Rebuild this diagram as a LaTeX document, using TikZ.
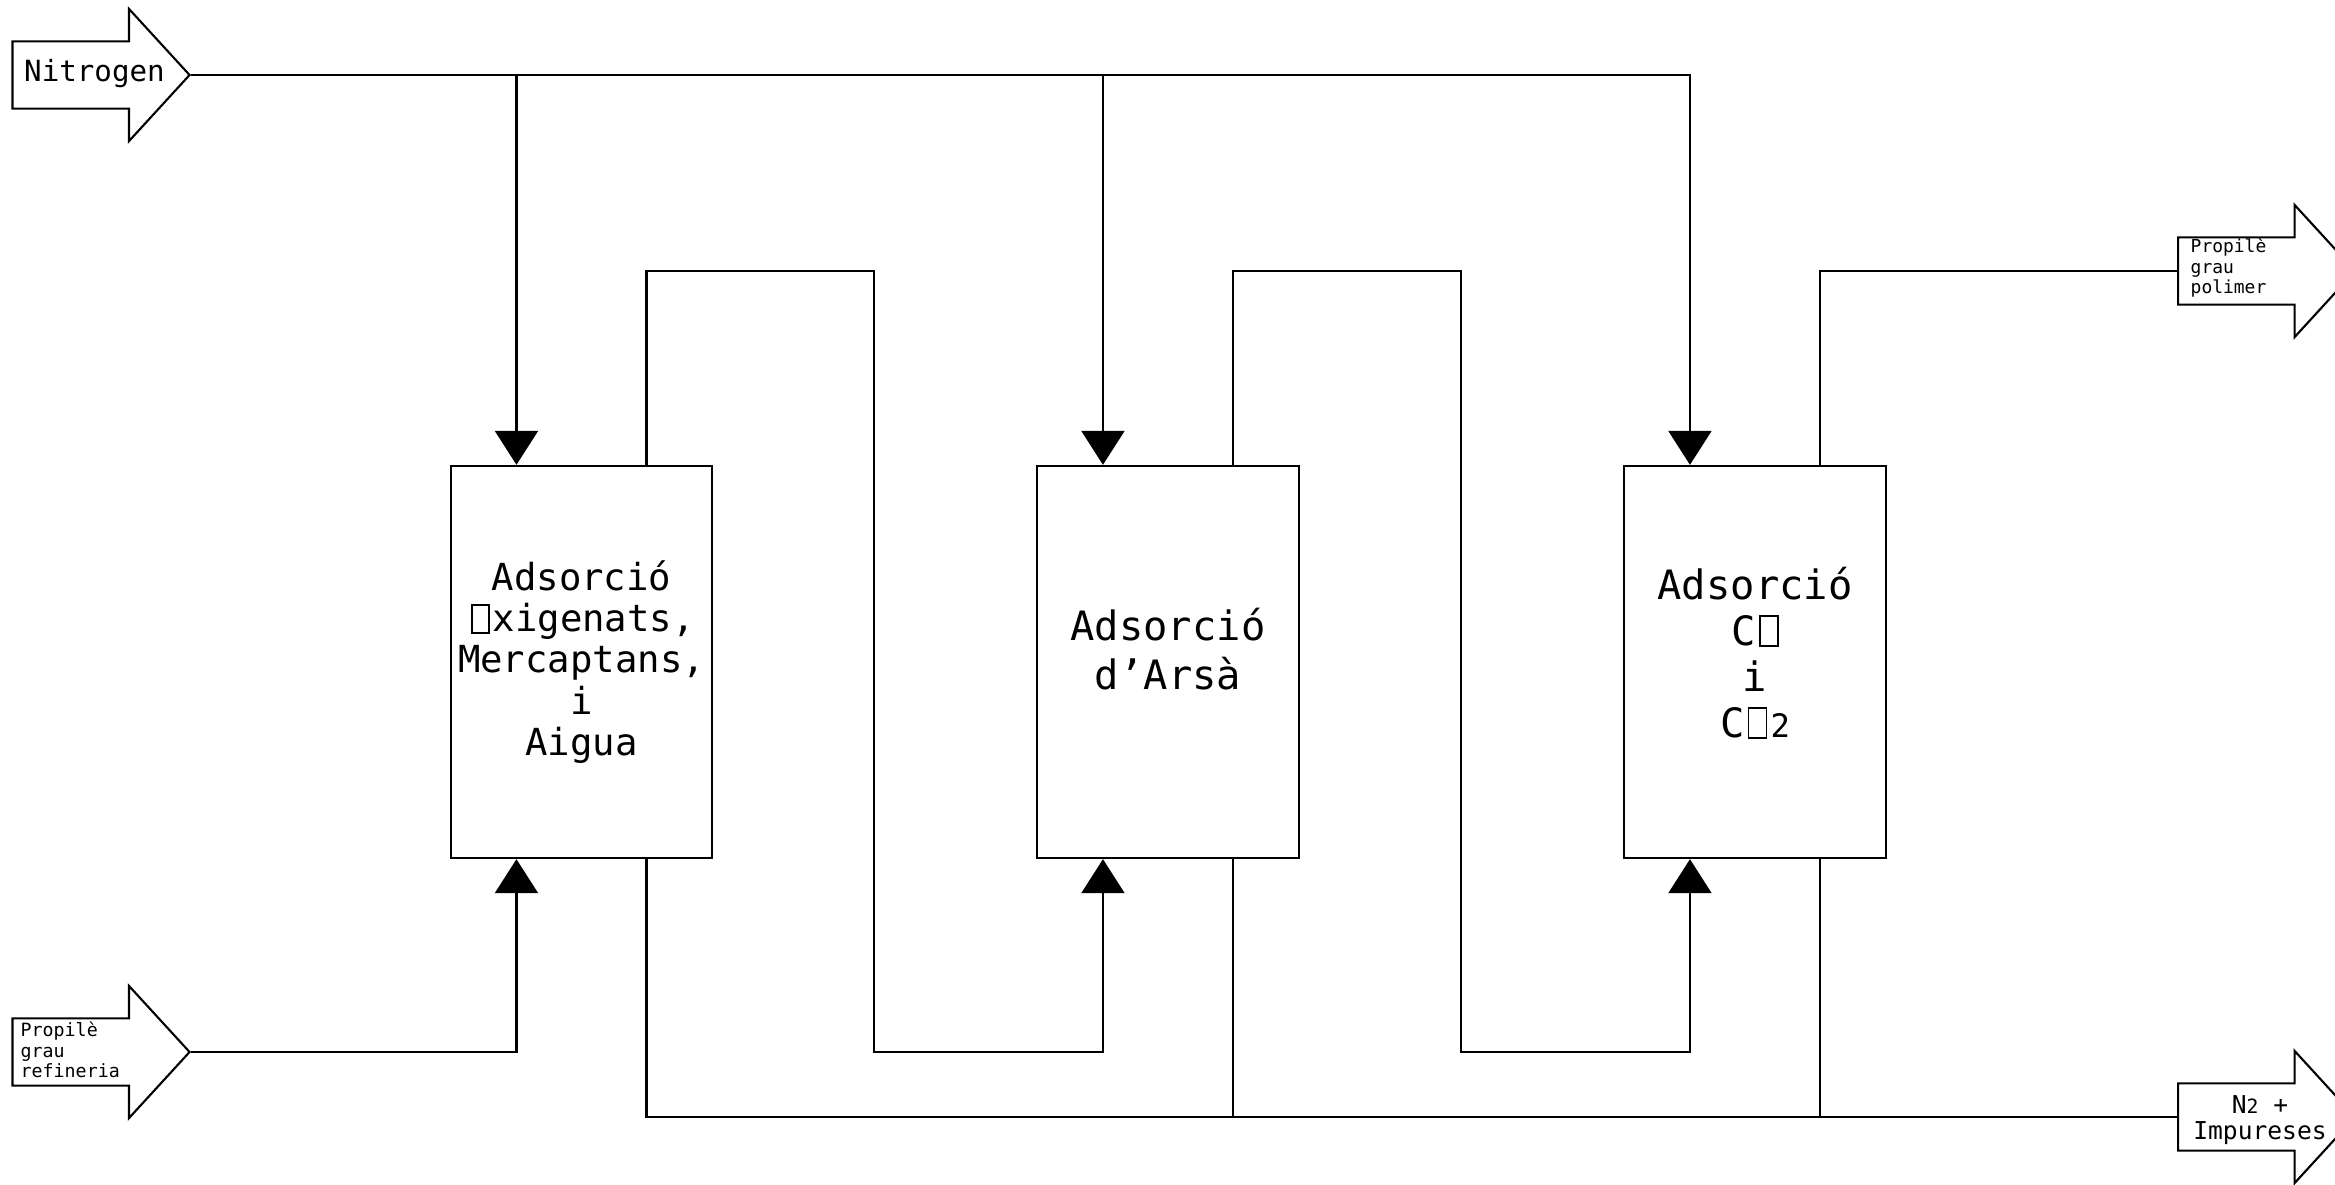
\documentclass[tikz,border=0pt]{standalone}
\usepackage{fontspec}
\setmainfont{DejaVu Sans Mono}
\usetikzlibrary{arrows.meta, positioning, calc, shapes.arrows}

% missing glyph, as the plotter printed it
\newcommand{\nochar}{\hspace{0.08em}{\setlength{\fboxsep}{0pt}\setlength{\fboxrule}{0.5pt}\fbox{\rule{0pt}{0.7em}\hspace{0.4em}}}\hspace{0.08em}}
\newcommand{\smalltwo}{\scalebox{0.8}{2}}

\tikzset{
	flow/.style={
			line width=0.6pt
		},
	feed/.style={
			flow,
			-{Triangle[width=4.3mm, length=3.4mm]}
		},
	column/.style={
			draw=black,
			line width=0.6pt,
			minimum width=2.61cm,
			minimum height=3.92cm,
			align=center,
			inner sep=0pt
		},
	stream/.style={
			draw=black,
			line width=0.6pt,
			single arrow,
			single arrow head extend=3.25mm,
			single arrow tip angle=95,
			minimum width=13mm,
			minimum height=17.7mm,
			text height=3.25mm,
			text depth=3.25mm,
			inner sep=0pt
		},
	label/.style={
			inner sep=0pt,
			align=left
		}
}

\begin{document}
\begin{tikzpicture}[x=0.01cm, y=-0.01cm]
    \useasboundingbox (0,0) rectangle (2335,1184);
    \clip (0,0) rectangle (2335,1184);

    % columns
    \node[column, font=\fontsize{10.6}{11.7}\selectfont] (ads1) at (581.5,662) {Adsorció\\\nochar xigenats,\\Mercaptans,\\i\\Aigua};
    \node[column, font=\fontsize{11.5}{13.9}\selectfont] (ads2) at (1168,662) {Adsorció\\d’Arsà\\[-6.5pt]\mbox{}};
    \node[column, font=\fontsize{11.5}{13.1}\selectfont] (ads3) at (1755,662) {Adsorció\\C\nochar\\i\\C\nochar\smalltwo\\[-7.4pt]\mbox{}};

    % streams in and out
    \node[stream, anchor=tip] (nitro) at (191,75) {};
    \node[stream, anchor=tip] (refin) at (191,1052) {};
    \node[stream, anchor=tail] (polim) at (2177,271) {};
    \node[stream, anchor=tail] (waste) at (2177,1117) {};

    \node[label, font=\fontsize{8.3}{10}\selectfont] (nitrotxt) at (94.5,74) {Nitrogen};
    \node[label, anchor=west, font=\fontsize{5.2}{5.8}\selectfont] (refintxt) at (20,1050) {Propilè\\grau\\refineria};
    \node[label, anchor=west, font=\fontsize{5.1}{5.8}\selectfont] (polimtxt) at (2190,268) {Propilè\\grau\\polimer};
    \node[label, align=center, font=\fontsize{7.0}{7.6}\selectfont] (wastetxt) at (2260,1120) {N\smalltwo{} +\\Impureses};

    \coordinate (top1) at ([xshift=-6.5mm]ads1.north);
    \coordinate (top2) at ([xshift=-6.5mm]ads2.north);
    \coordinate (top3) at ([xshift=-6.5mm]ads3.north);
    \coordinate (bot1) at ([xshift=-6.5mm]ads1.south);
    \coordinate (bot2) at ([xshift=-6.5mm]ads2.south);
    \coordinate (bot3) at ([xshift=-6.5mm]ads3.south);
    \coordinate (out1) at ([xshift=6.5mm]ads1.north);
    \coordinate (out2) at ([xshift=6.5mm]ads2.north);
    \coordinate (out3) at ([xshift=6.5mm]ads3.north);
    \coordinate (drain1) at ([xshift=6.5mm]ads1.south);
    \coordinate (drain2) at ([xshift=6.5mm]ads2.south);
    \coordinate (drain3) at ([xshift=6.5mm]ads3.south);
    \coordinate (turn1) at (874,271);
    \coordinate (turn2) at (1461,271);

    % nitrogen purge
    \draw[feed] (nitro.tip) -| (top3);
    \draw[feed] (nitro.tip -| top1) -- (top1);
    \draw[feed] (nitro.tip -| top2) -- (top2);

    % propylene train
    \draw[feed] (refin.tip) -| (bot1);
    \draw[feed] (out1) |- (turn1) -- (turn1 |- refin.tip) -| (bot2);
    \draw[feed] (out2) |- (turn2) -- (turn2 |- refin.tip) -| (bot3);
    \draw[flow] (out3) |- (polim.tail);

    % purge outlet
    \draw[flow] (drain1) |- (waste.tail);
    \draw[flow] (drain2) -- (drain2 |- waste.tail);
    \draw[flow] (drain3) -- (drain3 |- waste.tail);
\end{tikzpicture}
\end{document}
